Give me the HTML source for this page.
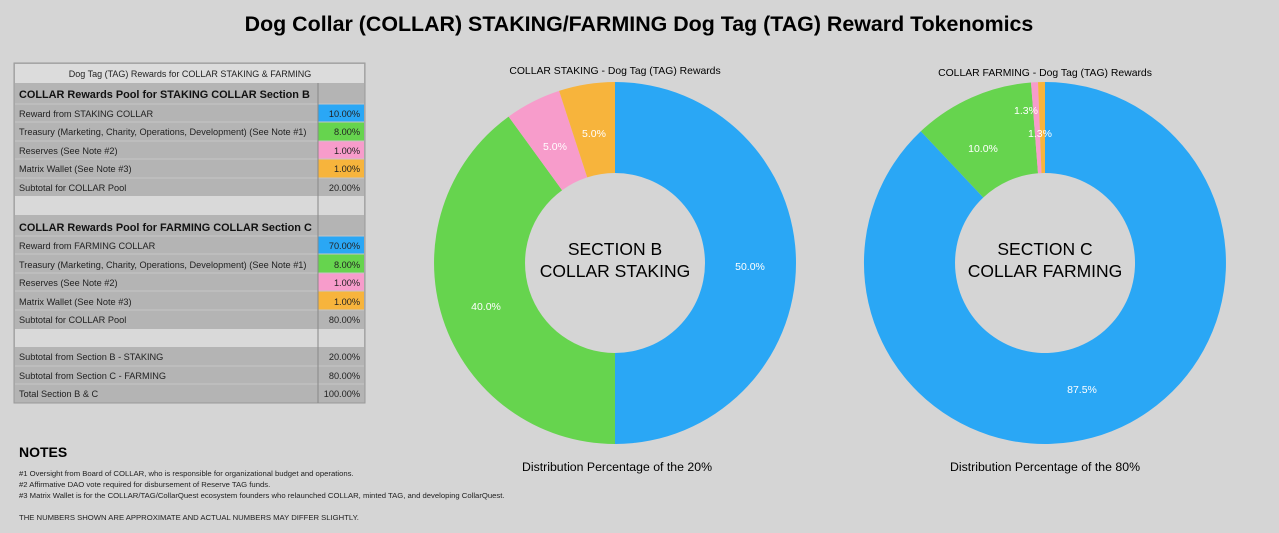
<!DOCTYPE html>
<html><head><meta charset="utf-8"><style>
body{margin:0;background:#d5d5d5;}
svg{display:block;font-family:"Liberation Sans",Arial,sans-serif;}
</style></head><body>
<svg width="1279" height="533" viewBox="0 0 1279 533" xmlns="http://www.w3.org/2000/svg">
<rect width="1279" height="533" fill="#d5d5d5"/>
<text x="639" y="31" font-size="21.4" font-weight="bold" text-anchor="middle" fill="#000">Dog Collar (COLLAR) STAKING/FARMING Dog Tag (TAG) Reward Tokenomics</text>

<g font-size="9.2" fill="#222">
<rect x="14" y="63" width="351" height="340" fill="#b4b4b4" stroke="#999"/>
<rect x="15" y="64" width="349" height="19" fill="#dcdcdc"/>
<text x="190" y="77" text-anchor="middle" font-size="9">Dog Tag (TAG) Rewards for COLLAR STAKING &amp; FARMING</text>
<rect x="15" y="196" width="349" height="19" fill="#d9d9d9"/>
<rect x="15" y="329" width="349" height="18" fill="#d9d9d9"/>
<rect x="318" y="104" width="46" height="18" fill="#2aa7f5"/>
<rect x="318" y="122" width="46" height="19" fill="#66d44e"/>
<rect x="318" y="141" width="46" height="18" fill="#f79ccb"/>
<rect x="318" y="159" width="46" height="19" fill="#f7b43c"/>
<rect x="318" y="236" width="46" height="18" fill="#2aa7f5"/>
<rect x="318" y="254" width="46" height="19" fill="#66d44e"/>
<rect x="318" y="273" width="46" height="18" fill="#f79ccb"/>
<rect x="318" y="291" width="46" height="19" fill="#f7b43c"/>
<g stroke="#c6c6c6" stroke-width="1">
<line x1="15" y1="104" x2="364" y2="104"/><line x1="15" y1="122" x2="364" y2="122"/><line x1="15" y1="141" x2="364" y2="141"/><line x1="15" y1="159" x2="364" y2="159"/><line x1="15" y1="178" x2="364" y2="178"/>
<line x1="15" y1="236" x2="364" y2="236"/><line x1="15" y1="254" x2="364" y2="254"/><line x1="15" y1="273" x2="364" y2="273"/><line x1="15" y1="291" x2="364" y2="291"/><line x1="15" y1="310" x2="364" y2="310"/>
<line x1="15" y1="366" x2="364" y2="366"/><line x1="15" y1="384" x2="364" y2="384"/>
</g>
<line x1="318" y1="83" x2="318" y2="403" stroke="#888"/>
<text x="19" y="98" font-size="10.9" font-weight="bold" fill="#111">COLLAR Rewards Pool for STAKING COLLAR Section B</text>
<text x="19" y="117">Reward from STAKING COLLAR</text><text x="360" y="117" text-anchor="end">10.00%</text>
<text x="19" y="135">Treasury (Marketing, Charity, Operations, Development) (See Note #1)</text><text x="360" y="135" text-anchor="end">8.00%</text>
<text x="19" y="154">Reserves (See Note #2)</text><text x="360" y="154" text-anchor="end">1.00%</text>
<text x="19" y="172">Matrix Wallet (See Note #3)</text><text x="360" y="172" text-anchor="end">1.00%</text>
<text x="19" y="191">Subtotal for COLLAR Pool</text><text x="360" y="191" text-anchor="end">20.00%</text>
<text x="19" y="231" font-size="10.9" font-weight="bold" fill="#111">COLLAR Rewards Pool for FARMING COLLAR Section C</text>
<text x="19" y="249">Reward from FARMING COLLAR</text><text x="360" y="249" text-anchor="end">70.00%</text>
<text x="19" y="268">Treasury (Marketing, Charity, Operations, Development) (See Note #1)</text><text x="360" y="268" text-anchor="end">8.00%</text>
<text x="19" y="286">Reserves (See Note #2)</text><text x="360" y="286" text-anchor="end">1.00%</text>
<text x="19" y="305">Matrix Wallet (See Note #3)</text><text x="360" y="305" text-anchor="end">1.00%</text>
<text x="19" y="323">Subtotal for COLLAR Pool</text><text x="360" y="323" text-anchor="end">80.00%</text>
<text x="19" y="360">Subtotal from Section B - STAKING</text><text x="360" y="360" text-anchor="end">20.00%</text>
<text x="19" y="379">Subtotal from Section C - FARMING</text><text x="360" y="379" text-anchor="end">80.00%</text>
<text x="19" y="397">Total Section B &amp; C</text><text x="360" y="397" text-anchor="end">100.00%</text>
</g>

<text x="19" y="457" font-size="14" font-weight="bold">NOTES</text>
<g font-size="7.7" fill="#222">
<text x="19" y="476">#1 Oversight from Board of COLLAR, who is responsible for organizational budget and operations.</text>
<text x="19" y="487">#2 Affirmative DAO vote required for disbursement of Reserve TAG funds.</text>
<text x="19" y="498">#3 Matrix Wallet is for the COLLAR/TAG/CollarQuest ecosystem founders who relaunched COLLAR, minted TAG, and developing CollarQuest.</text>
<text x="19" y="520">THE NUMBERS SHOWN ARE APPROXIMATE AND ACTUAL NUMBERS MAY DIFFER SLIGHTLY.</text>
</g>

<text x="615" y="74" font-size="10.4" text-anchor="middle">COLLAR STAKING - Dog Tag (TAG) Rewards</text>
<g>
<path d="M615 82 A181 181 0 0 1 615 444 L615 353 A90 90 0 0 0 615 173 Z" fill="#2aa7f5"/>
<path d="M615 444 A181 181 0 0 1 508.6 116.6 L562.1 190.2 A90 90 0 0 0 615 353 Z" fill="#66d44e"/>
<path d="M508.6 116.6 A181 181 0 0 1 559.1 90.9 L587.2 177.4 A90 90 0 0 0 562.1 190.2 Z" fill="#f79ccb"/>
<path d="M559.1 90.9 A181 181 0 0 1 615 82 L615 173 A90 90 0 0 0 587.2 177.4 Z" fill="#f7b43c"/>
</g>
<g font-size="10.5" fill="#fff" text-anchor="middle">
<text x="750" y="270">50.0%</text><text x="486" y="310">40.0%</text><text x="555" y="150">5.0%</text><text x="594" y="137">5.0%</text>
</g>
<text x="615" y="255" font-size="17.5" text-anchor="middle">SECTION B</text>
<text x="615" y="277" font-size="17.5" text-anchor="middle">COLLAR STAKING</text>
<text x="617" y="471" font-size="12.3" text-anchor="middle">Distribution Percentage of the 20%</text>

<text x="1045" y="76" font-size="10.4" text-anchor="middle">COLLAR FARMING - Dog Tag (TAG) Rewards</text>
<g>
<path d="M1045 82 A181 181 0 1 1 920.8 131.3 L983.3 197.5 A90 90 0 1 0 1045 173 Z" fill="#2aa7f5"/>
<path d="M920.8 131.3 A181 181 0 0 1 1031 82.5 L1038 173.3 A90 90 0 0 0 983.3 197.5 Z" fill="#66d44e"/>
<path d="M1031 82.5 A181 181 0 0 1 1038 82.1 L1041.5 173.1 A90 90 0 0 0 1038 173.3 Z" fill="#f79ccb"/>
<path d="M1038 82.1 A181 181 0 0 1 1045 82 L1045 173 A90 90 0 0 0 1041.5 173.1 Z" fill="#f7b43c"/>
</g>
<g font-size="10.5" fill="#fff" text-anchor="middle">
<text x="1082" y="393">87.5%</text><text x="983" y="152">10.0%</text><text x="1026" y="114">1.3%</text><text x="1040" y="137">1.3%</text>
</g>
<text x="1045" y="255" font-size="17.5" text-anchor="middle">SECTION C</text>
<text x="1045" y="277" font-size="17.5" text-anchor="middle">COLLAR FARMING</text>
<text x="1045" y="471" font-size="12.3" text-anchor="middle">Distribution Percentage of the 80%</text>
</svg>
</body></html>
